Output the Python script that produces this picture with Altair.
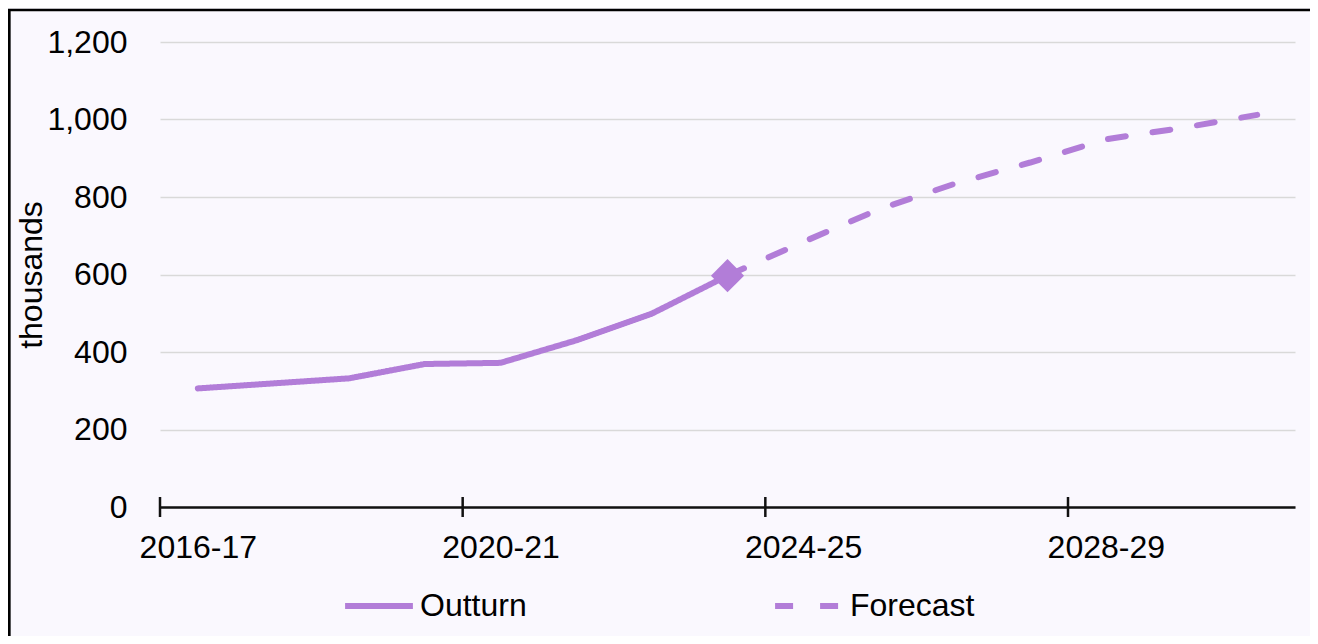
import altair as alt
import pandas as pd

categories = ["2016-17", "2017-18", "2018-19", "2019-20", "2020-21", "2021-22",
              "2022-23", "2023-24", "2024-25", "2025-26", "2026-27", "2027-28",
              "2028-29", "2029-30", "2030-31"]
outturn = [306, 319, 332, 369, 372, 430, 499, 597]
forecast_start = 7
forecast = [597, 684, 768, 834, 889, 949, 978, 1012]
labelled_categories = [0, 4, 8, 12]
tick_boundaries = [0, 4, 8, 12]
y_ticks = [0, 200, 400, 600, 800, 1000, 1200]

PURPLE = "#B27DD8"
BG = "#FAF8FE"
FONT = "Liberation Sans"
FS = 32
W, H = 1135, 465

rows = []
for i, v in enumerate(outturn):
    rows.append({"idx": i + 0.5, "value": v, "series": "Outturn"})
for j, v in enumerate(forecast):
    rows.append({"idx": forecast_start + j + 0.5, "value": v, "series": "Forecast"})
df = pd.DataFrame(rows)
marker = pd.DataFrame([{"idx": len(outturn) - 0.5, "value": outturn[-1]}])
ticks_df = pd.DataFrame({"t": tick_boundaries})

label_arr = "[" + ",".join("'%s'" % c for c in categories) + "]"

xscale = alt.Scale(domain=[0, len(categories)], nice=False, zero=False)
yscale = alt.Scale(domain=[0, 1200], nice=False)

xaxis = alt.Axis(values=[i + 0.5 for i in labelled_categories],
                 labelExpr=label_arr + "[floor(datum.value)]",
                 ticks=False, tickSize=0, grid=False, title=None,
                 domainColor="#111111", domainWidth=2.5,
                 labelFont=FONT, labelFontSize=FS, labelColor="#000000",
                 labelPadding=25, labelAngle=0)
yaxis = alt.Axis(values=y_ticks, format=",.0f", ticks=False, domain=False,
                 grid=True, gridColor="#D9D9D9", gridWidth=1.5,
                 labelFont=FONT, labelFontSize=FS, labelColor="#000000",
                 labelPadding=33, title="thousands", titleFont=FONT,
                 titleFontSize=FS, titleFontWeight="normal",
                 titleColor="#000000", titleX=-129, titleY=H / 2,
                 titleBaseline="middle", titleAngle=270)

lines = alt.Chart(df).mark_line(color=PURPLE, strokeWidth=6, strokeCap="round",
                                strokeJoin="round").encode(
    x=alt.X("idx:Q", scale=xscale, axis=xaxis),
    y=alt.Y("value:Q", scale=yscale, axis=yaxis),
    strokeDash=alt.StrokeDash(
        "series:N",
        scale=alt.Scale(domain=["Outturn", "Forecast"], range=[[1, 0], [18, 27]]),
        legend=alt.Legend(orient="none", legendX=182, legendY=527,
                          direction="horizontal", columns=2, columnPadding=236,
                          title=None, labelFont=FONT, labelFontSize=FS,
                          labelColor="#000000", symbolType="stroke",
                          symbolSize=4600, symbolStrokeWidth=6,
                          symbolDash=[24, 20],
                          symbolStrokeColor=PURPLE, labelOffset=4, padding=0),
    ),
)

diamond = alt.Chart(marker).mark_point(shape="diamond", filled=True, size=1100,
                                       color=PURPLE, opacity=1).encode(
    x=alt.X("idx:Q", scale=xscale),
    y=alt.Y("value:Q", scale=yscale),
)

tick_rules = alt.Chart(ticks_df).mark_rule(color="#111111", strokeWidth=2.5).encode(
    x=alt.X("t:Q", scale=xscale),
    y=alt.value(H - 10),
    y2=alt.value(H + 10),
)

border = alt.Chart(pd.DataFrame([{"a": 1}])).mark_rect(
    filled=False, stroke="#000000", strokeWidth=2.7).encode(
    x=alt.value(-150.7), x2=alt.value(W + 200),
    y=alt.value(-32), y2=alt.value(H + 300),
)

chart = alt.layer(border, lines, tick_rules, diamond).properties(
    width=W, height=H,
    autosize=alt.AutoSizeParams(type="none"),
    padding={"left": 152, "top": 34, "right": 15, "bottom": 129},
    background=BG,
).configure_view(stroke=None)

chart.save("out.html", embed_options={"renderer": "svg", "actions": False})
